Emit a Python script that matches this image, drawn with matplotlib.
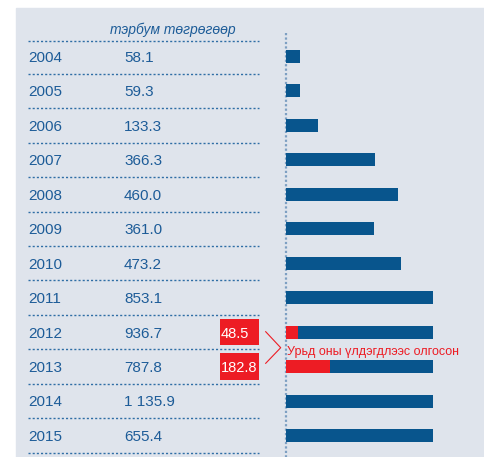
import matplotlib
matplotlib.use("Agg")
import matplotlib.pyplot as plt
from matplotlib.patches import Rectangle

# ---- data ----
years = ["2004", "2005", "2006", "2007", "2008", "2009", "2010", "2011",
         "2012", "2013", "2014", "2015"]
values = [58.1, 59.3, 133.3, 366.3, 460.0, 361.0, 473.2, 853.1,
          936.7, 787.8, 1135.9, 655.4]
prev_years = ["2012", "2013"]
prev_values = [48.5, 182.8]
header = "тэрбум төгрөгөөр"
prev_label = "Урьд оны үлдэгдлээс олгосон"
bar_xmax = 605

BLUE = "#08558d"
RED = "#ed1c24"
TXT = "#1d5c98"
PANEL = "#dfe4ec"
FONT = ["Liberation Sans", "DejaVu Sans"]

W, H = 484, 457
fig = plt.figure(figsize=(W / 100, H / 100), dpi=100)
bg = Rectangle((16 / W, 0), 1 - 16 / W, 1 - 8 / H,
               transform=fig.transFigure, color=PANEL, zorder=-10)
fig.add_artist(bg)

# row mapping (row index -> pixel): 56.5 + 34.45*i
r0, dr = 56.5, 34.45
ylim = ((H - r0) / dr, (0 - r0) / dr)

ax = fig.add_axes([0, 0, 1, 1])
ax.set_xlim(0, W)
ax.set_ylim(*ylim)
ax.axis("off")
ax.patch.set_alpha(0)

rows = list(range(len(years)))

# header
ax.text(173, (30 - r0) / dr, header, ha="center", va="center", fontsize=10,
        style="italic", color=TXT, family=FONT)

# dotted separators
seps = [(41 - r0) / dr] + [i + 0.5 for i in rows]
ax.hlines(seps, 28, 259, colors="#2f6ea5", linestyles=(0, (1.5, 1.5)), lw=1)
ax.plot([286, 286], [(33 - r0) / dr, ylim[0]], color="#7d9fc2",
        ls=(0, (1, 1)), lw=1.6)

for i, (y, v) in enumerate(zip(years, values)):
    ax.text(28, i, y, ha="left", va="center_baseline", fontsize=11,
            color=TXT, family=FONT)
    s = f"{v:,.1f}".replace(",", " ")
    ax.text(124, i, s, ha="left", va="center_baseline", fontsize=11,
            color=TXT, family=FONT)

# red boxes
bh = 26.7 / dr
for y, pv in zip(prev_years, prev_values):
    i = years.index(y)
    ax.add_patch(Rectangle((220, i - bh / 2), 39, bh, color=RED, lw=0))
    ax.text(221, i, f"{pv:.1f}", ha="left", va="center_baseline",
            fontsize=10.5, color="white", family=FONT)

# chevron and label
ax.plot([265.7, 280.7, 265.7],
        [(331.7 - r0) / dr, (347.7 - r0) / dr, (363.3 - r0) / dr],
        color=RED, lw=0.8)
ax.text(287, (350 - r0) / dr, prev_label, ha="left", va="center_baseline",
        fontsize=9, color=RED, family=FONT, zorder=5)

# bars
bx = fig.add_axes([286 / W, 0, 147 / W, 1])
bx.set_xlim(0, bar_xmax)
bx.set_ylim(*ylim)
bx.axis("off")
bx.patch.set_alpha(0)
bx.barh(rows, values, height=13 / dr, color=BLUE, lw=0)
bx.barh([years.index(y) for y in prev_years], prev_values, height=13 / dr,
        color=RED, lw=0)

fig.savefig("out.png", dpi=100)
